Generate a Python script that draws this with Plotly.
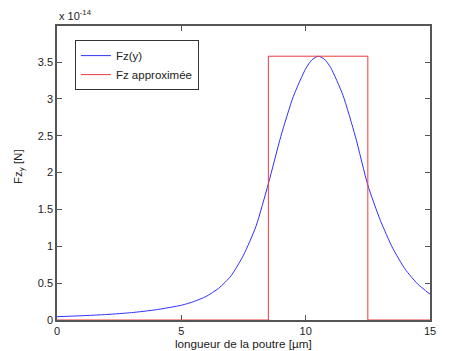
import plotly.graph_objects as go

# Data (force values in units of 1e-14 N)
x_fz = [0, 1, 2, 3, 4, 5, 5.5, 6, 6.5, 7, 7.5, 8, 8.5, 9, 9.5, 10, 10.25, 10.5, 10.75, 11, 11.5, 12, 12.5, 13, 13.5, 14, 14.5, 15]
y_fz = [0.045, 0.058, 0.075, 0.10, 0.14, 0.20, 0.25, 0.32, 0.43, 0.60, 0.88, 1.27, 1.85, 2.49, 3.03, 3.41, 3.53, 3.58, 3.54, 3.43, 3.05, 2.49, 1.83, 1.355, 0.975, 0.69, 0.49, 0.35]

x_approx = [0, 8.5, 8.5, 12.5, 12.5, 15]
y_approx = [0, 0, 3.58, 3.58, 0, 0]

y_ticks = [0, 0.5, 1, 1.5, 2, 2.5, 3, 3.5]
y_ticktext = ["0", "0.5", "1", "1.5", "2", "2.5", "3", "3.5"]
x_ticks = [0, 5, 10, 15]

FONT = "Liberation Sans, Arial, sans-serif"
AXC = "#555555"
TXT = "#222222"

fig = go.Figure()
fig.add_trace(go.Scatter(x=x_fz, y=y_fz, mode="lines", name="Fz(y)",
                         line=dict(color="#3030ff", width=1, shape="spline", smoothing=0.6)))
fig.add_trace(go.Scatter(x=x_approx, y=y_approx, mode="lines", name="Fz approximée",
                         line=dict(color="#f03a3a", width=1)))

axis_common = dict(showgrid=False, zeroline=False, showline=True, linecolor=AXC, linewidth=1.5,
                   mirror="ticks", ticks="inside", ticklen=5, tickcolor=AXC, tickwidth=1,
                   tickfont=dict(family=FONT, size=11, color=TXT))

fig.update_layout(
    width=467, height=351,
    margin=dict(l=57, r=37, t=26, b=31),
    paper_bgcolor="white", plot_bgcolor="white",
    showlegend=True,
    legend=dict(x=0.048, y=0.952, xanchor="left", yanchor="top",
                bordercolor="#333333", borderwidth=1, bgcolor="white",
                font=dict(family=FONT, size=11.5, color=TXT),
                tracegroupgap=0, itemwidth=30, entrywidth=100),
    xaxis=dict(range=[0, 15], tickvals=x_ticks, **axis_common),
    yaxis=dict(range=[0, 3.99], tickvals=y_ticks, ticktext=y_ticktext, **axis_common),
    annotations=[
        dict(text="x 10<sup>-14</sup>", xref="paper", yref="paper", x=0, y=1, xanchor="left",
             yanchor="bottom", yshift=2, showarrow=False,
             font=dict(family=FONT, size=11, color=TXT)),
        dict(text="longueur de la poutre [µm]", xref="paper", yref="paper", x=0.5, y=0,
             xanchor="center", yanchor="top", yshift=-15, showarrow=False,
             font=dict(family=FONT, size=11.7, color=TXT)),
        dict(text="Fz<sub>y</sub> [N]", xref="paper", yref="paper", x=0, y=0.52,
             xanchor="right", yanchor="middle", xshift=-29, textangle=-90, showarrow=False,
             font=dict(family=FONT, size=11.5, color=TXT)),
    ],
)

fig.write_html("out.html")
